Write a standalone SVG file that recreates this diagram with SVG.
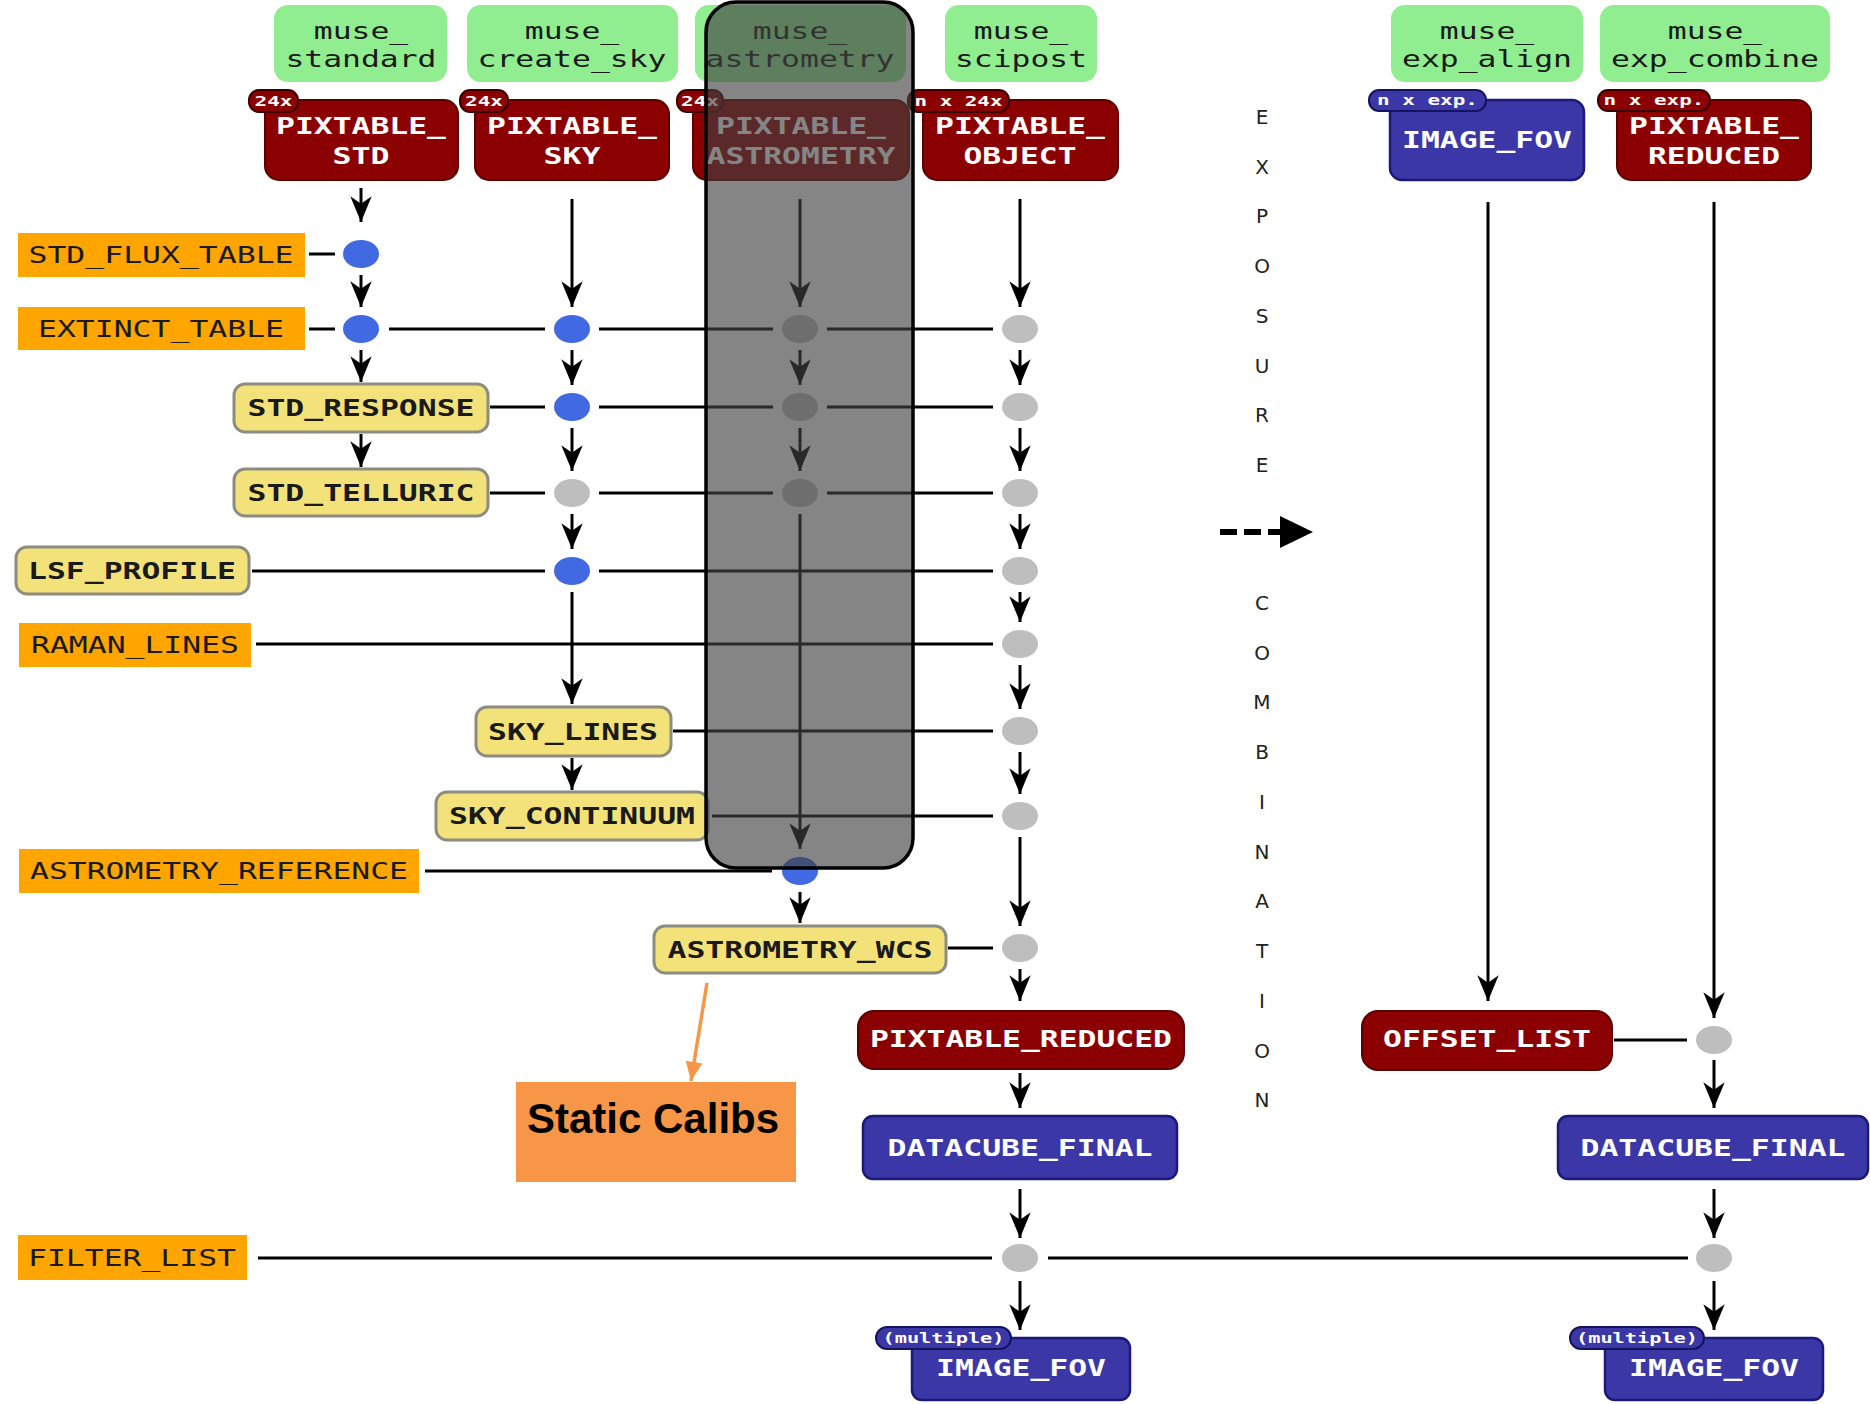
<svg xmlns="http://www.w3.org/2000/svg" width="1870" height="1404" viewBox="0 0 1870 1404">
<defs>
<style>
.t{font-family:"DejaVu Sans Mono","Liberation Mono",monospace;font-size:23px;text-anchor:middle}
.b{font-weight:bold}
.w{fill:#fff}
.k{fill:#1a1a1a}
.tag{font-family:"DejaVu Sans Mono","Liberation Mono",monospace;font-size:14px;font-weight:bold;fill:#fff;text-anchor:middle}
.green{fill:#90EE90}
.red{fill:#8B0000;stroke:#5a0000;stroke-width:2}
.redtag{fill:#8B0000;stroke:#3a0000;stroke-width:2}
.blue{fill:#3B37A6;stroke:#1b197a;stroke-width:2.5}
.bluetag{fill:#3B37A6;stroke:#15135e;stroke-width:2}
.yellow{fill:#F3E27A;stroke:#8c8c80;stroke-width:3}
.orange{fill:#FFA500}
.db{fill:#4169E1}
.dg{fill:#BEBEBE}
.ln{stroke:#000;stroke-width:3;fill:none}
.ar{marker-end:url(#ah)}
.ex{font-family:"DejaVu Sans","Liberation Sans",sans-serif;font-size:20px;fill:#222;text-anchor:middle}
</style>
<marker id="ah" markerUnits="userSpaceOnUse" markerWidth="30" markerHeight="30" viewBox="-26 -12 28 24" refX="0" refY="0" orient="auto">
<path d="M0,0 L-24,-10 L-17,0 L-24,10 Z" fill="#000"/>
</marker>
<marker id="oh" markerUnits="userSpaceOnUse" markerWidth="24" markerHeight="24" viewBox="-18 -9 20 18" refX="0" refY="0" orient="auto">
<path d="M0,0 L-16,-7 L-16,7 Z" fill="#F79646"/>
</marker>
</defs>
<rect x="0" y="0" width="1870" height="1404" fill="#fff"/>

<!-- recipe boxes -->
<g id="muse_standard"><rect class="green" x="274" y="5" width="173" height="77" rx="14"/><text class="t k" x="361" y="39" textLength="94.5" lengthAdjust="spacingAndGlyphs">muse_</text><text class="t k" x="361" y="67" textLength="151" lengthAdjust="spacingAndGlyphs">standard</text></g>
<g id="muse_create_sky"><rect class="green" x="467" y="5" width="211" height="77" rx="14"/><text class="t k" x="572" y="39" textLength="94.5" lengthAdjust="spacingAndGlyphs">muse_</text><text class="t k" x="572" y="67" textLength="189" lengthAdjust="spacingAndGlyphs">create_sky</text></g>
<g id="muse_astrometry"><rect class="green" x="695" y="5" width="211" height="77" rx="14"/><text class="t k" x="800" y="39" textLength="94.5" lengthAdjust="spacingAndGlyphs">muse_</text><text class="t k" x="800" y="67" textLength="189" lengthAdjust="spacingAndGlyphs">astrometry</text></g>
<g id="muse_scipost"><rect class="green" x="945" y="5" width="152" height="77" rx="14"/><text class="t k" x="1021" y="39" textLength="94.5" lengthAdjust="spacingAndGlyphs">muse_</text><text class="t k" x="1021" y="67" textLength="132" lengthAdjust="spacingAndGlyphs">scipost</text></g>
<g id="muse_exp_align"><rect class="green" x="1391" y="5" width="192" height="77" rx="14"/><text class="t k" x="1487" y="39" textLength="94.5" lengthAdjust="spacingAndGlyphs">muse_</text><text class="t k" x="1487" y="67" textLength="170" lengthAdjust="spacingAndGlyphs">exp_align</text></g>
<g id="muse_exp_combine"><rect class="green" x="1600" y="5" width="230" height="77" rx="14"/><text class="t k" x="1715" y="39" textLength="94.5" lengthAdjust="spacingAndGlyphs">muse_</text><text class="t k" x="1715" y="67" textLength="208" lengthAdjust="spacingAndGlyphs">exp_combine</text></g>

<!-- input frames -->
<g id="pixtable_std"><rect class="red" x="265" y="100" width="193" height="80" rx="14"/><rect class="redtag" x="249" y="90" width="49" height="22" rx="10"/><text class="tag" x="273.5" y="106" textLength="38" lengthAdjust="spacingAndGlyphs">24x</text><text class="t b w" x="361" y="134" textLength="170" lengthAdjust="spacingAndGlyphs">PIXTABLE_</text><text class="t b w" x="361" y="164" textLength="57" lengthAdjust="spacingAndGlyphs">STD</text></g>
<g id="pixtable_sky"><rect class="red" x="475" y="100" width="194" height="80" rx="14"/><rect class="redtag" x="460" y="90" width="48" height="22" rx="10"/><text class="tag" x="484" y="106" textLength="38" lengthAdjust="spacingAndGlyphs">24x</text><text class="t b w" x="572" y="134" textLength="170" lengthAdjust="spacingAndGlyphs">PIXTABLE_</text><text class="t b w" x="572" y="164" textLength="57" lengthAdjust="spacingAndGlyphs">SKY</text></g>
<g id="pixtable_astrometry"><rect class="red" x="693" y="100" width="216" height="80" rx="14"/><rect class="redtag" x="677" y="90" width="46" height="22" rx="10"/><text class="tag" x="700" y="106" textLength="38" lengthAdjust="spacingAndGlyphs">24x</text><text class="t b w" x="801" y="134" textLength="170" lengthAdjust="spacingAndGlyphs">PIXTABLE_</text><text class="t b w" x="801" y="164" textLength="189" lengthAdjust="spacingAndGlyphs">ASTROMETRY</text></g>
<g id="pixtable_object"><rect class="red" x="923" y="100" width="195" height="80" rx="14"/><rect class="redtag" x="908" y="90" width="101" height="22" rx="10"/><text class="tag" x="958.5" y="106" textLength="88" lengthAdjust="spacingAndGlyphs">n x 24x</text><text class="t b w" x="1020" y="134" textLength="170" lengthAdjust="spacingAndGlyphs">PIXTABLE_</text><text class="t b w" x="1020" y="164" textLength="113" lengthAdjust="spacingAndGlyphs">OBJECT</text></g>
<g id="image_fov_in"><rect class="blue" x="1390" y="100" width="194" height="80" rx="12"/><rect class="bluetag" x="1369" y="90" width="117" height="21" rx="10"/><text class="tag" x="1427.5" y="105" textLength="101" lengthAdjust="spacingAndGlyphs">n x exp.</text><text class="t b w" x="1487" y="148" textLength="170" lengthAdjust="spacingAndGlyphs">IMAGE_FOV</text></g>
<g id="pixtable_reduced_in"><rect class="red" x="1617" y="100" width="194" height="80" rx="14"/><rect class="redtag" x="1598" y="90" width="112" height="21" rx="10"/><text class="tag" x="1654" y="105" textLength="101" lengthAdjust="spacingAndGlyphs">n x exp.</text><text class="t b w" x="1714" y="134" textLength="170" lengthAdjust="spacingAndGlyphs">PIXTABLE_</text><text class="t b w" x="1714" y="164" textLength="132" lengthAdjust="spacingAndGlyphs">REDUCED</text></g>

<!-- connectors -->
<g id="connectors">
<!-- horizontal -->
<path class="ln" d="M309,254H335 M309,329H335 M389,329H545 M599,329H773 M827,329H993
M490,407H545 M599,407H773 M827,407H993
M490,493H545 M599,493H773 M827,493H993
M252,571H545 M599,571H993
M256,644H993 M673,731H993 M712,816H993 M425,871H772 M948,948H993
M1614,1040H1687 M258,1258H992 M1048,1258H1688"/>
<!-- col1 -->
<path class="ln ar" d="M361,188V222"/>
<path class="ln ar" d="M361,275V307"/>
<path class="ln ar" d="M361,350V382"/>
<path class="ln ar" d="M361,434V467"/>
<!-- col2 -->
<path class="ln ar" d="M572,199V307"/>
<path class="ln ar" d="M572,350V385"/>
<path class="ln ar" d="M572,428V471"/>
<path class="ln ar" d="M572,514V549"/>
<path class="ln ar" d="M572,592V704"/>
<path class="ln ar" d="M572,758V790"/>
<!-- col3 -->
<path class="ln ar" d="M800,199V307"/>
<path class="ln ar" d="M800,350V385"/>
<path class="ln ar" d="M800,428V471"/>
<path class="ln ar" d="M800,514V849"/>
<path class="ln ar" d="M800,892V923"/>
<!-- col4 -->
<path class="ln ar" d="M1020,199V307"/>
<path class="ln ar" d="M1020,350V385"/>
<path class="ln ar" d="M1020,428V471"/>
<path class="ln ar" d="M1020,514V549"/>
<path class="ln ar" d="M1020,592V622"/>
<path class="ln ar" d="M1020,665V709"/>
<path class="ln ar" d="M1020,752V794"/>
<path class="ln ar" d="M1020,837V926"/>
<path class="ln ar" d="M1020,969V1001"/>
<path class="ln ar" d="M1020,1073V1108"/>
<path class="ln ar" d="M1020,1189V1238"/>
<path class="ln ar" d="M1020,1281V1330"/>
<!-- col5 -->
<path class="ln ar" d="M1488,202V1001"/>
<!-- col6 -->
<path class="ln ar" d="M1714,202V1018"/>
<path class="ln ar" d="M1714,1060V1108"/>
<path class="ln ar" d="M1714,1189V1238"/>
<path class="ln ar" d="M1714,1281V1330"/>
<!-- static calibs pointer -->
<path d="M707,983L691,1081" stroke="#F79646" stroke-width="3.5" fill="none" marker-end="url(#oh)"/>
<!-- exposure combination dashed arrow -->
<path d="M1220,532H1284" stroke="#000" stroke-width="6" stroke-dasharray="17 7" fill="none"/>
<path d="M1280,516L1313,532L1280,548Z" fill="#000"/>
</g>

<!-- merge points -->
<g id="dots">
<ellipse class="db" cx="361" cy="254" rx="18" ry="14"/>
<ellipse class="db" cx="361" cy="329" rx="18" ry="14"/>
<ellipse class="db" cx="572" cy="329" rx="18" ry="14"/>
<ellipse class="db" cx="572" cy="407" rx="18" ry="14"/>
<ellipse class="dg" cx="572" cy="493" rx="18" ry="14"/>
<ellipse class="db" cx="572" cy="571" rx="18" ry="14"/>
<ellipse class="dg" cx="800" cy="329" rx="18" ry="14"/>
<ellipse class="dg" cx="800" cy="407" rx="18" ry="14"/>
<ellipse class="dg" cx="800" cy="493" rx="18" ry="14"/>
<ellipse class="db" cx="800" cy="871" rx="18" ry="14"/>
<ellipse class="dg" cx="1020" cy="329" rx="18" ry="14"/>
<ellipse class="dg" cx="1020" cy="407" rx="18" ry="14"/>
<ellipse class="dg" cx="1020" cy="493" rx="18" ry="14"/>
<ellipse class="dg" cx="1020" cy="571" rx="18" ry="14"/>
<ellipse class="dg" cx="1020" cy="644" rx="18" ry="14"/>
<ellipse class="dg" cx="1020" cy="731" rx="18" ry="14"/>
<ellipse class="dg" cx="1020" cy="816" rx="18" ry="14"/>
<ellipse class="dg" cx="1020" cy="948" rx="18" ry="14"/>
<ellipse class="dg" cx="1020" cy="1258" rx="18" ry="14"/>
<ellipse class="dg" cx="1714" cy="1040" rx="18" ry="14"/>
<ellipse class="dg" cx="1714" cy="1258" rx="18" ry="14"/>
</g>

<!-- static calibration inputs -->
<g id="std_flux_table"><rect class="orange" x="18" y="233" width="287" height="44"/><text class="t k" x="161" y="263" textLength="265" lengthAdjust="spacingAndGlyphs">STD_FLUX_TABLE</text></g>
<g id="extinct_table"><rect class="orange" x="18" y="307" width="287" height="43"/><text class="t k" x="161" y="337" textLength="246" lengthAdjust="spacingAndGlyphs">EXTINCT_TABLE</text></g>
<g id="raman_lines"><rect class="orange" x="19" y="623" width="232" height="44"/><text class="t k" x="135" y="653" textLength="208" lengthAdjust="spacingAndGlyphs">RAMAN_LINES</text></g>
<g id="astrometry_reference"><rect class="orange" x="19" y="849" width="400" height="44"/><text class="t k" x="219" y="879" textLength="378" lengthAdjust="spacingAndGlyphs">ASTROMETRY_REFERENCE</text></g>
<g id="filter_list"><rect class="orange" x="18" y="1235" width="229" height="45"/><text class="t k" x="132" y="1266" textLength="208" lengthAdjust="spacingAndGlyphs">FILTER_LIST</text></g>

<g id="std_response"><rect class="yellow" x="234" y="384" width="254" height="48" rx="11"/><text class="t b k" x="361" y="416" textLength="227" lengthAdjust="spacingAndGlyphs">STD_RESPONSE</text></g>
<g id="std_telluric"><rect class="yellow" x="234" y="469" width="254" height="47" rx="11"/><text class="t b k" x="361" y="501" textLength="227" lengthAdjust="spacingAndGlyphs">STD_TELLURIC</text></g>
<g id="lsf_profile"><rect class="yellow" x="16" y="547" width="233" height="47" rx="11"/><text class="t b k" x="132" y="579" textLength="208" lengthAdjust="spacingAndGlyphs">LSF_PROFILE</text></g>
<g id="sky_lines"><rect class="yellow" x="476" y="707" width="195" height="49" rx="11"/><text class="t b k" x="573" y="740" textLength="170" lengthAdjust="spacingAndGlyphs">SKY_LINES</text></g>
<g id="sky_continuum"><rect class="yellow" x="436" y="792" width="272" height="48" rx="11"/><text class="t b k" x="572" y="824" textLength="246" lengthAdjust="spacingAndGlyphs">SKY_CONTINUUM</text></g>
<g id="astrometry_wcs"><rect class="yellow" x="654" y="926" width="292" height="47" rx="11"/><text class="t b k" x="800" y="958" textLength="265" lengthAdjust="spacingAndGlyphs">ASTROMETRY_WCS</text></g>

<!-- products -->
<g id="pixtable_reduced"><rect class="red" x="858" y="1011" width="326" height="58" rx="16"/><text class="t b w" x="1021" y="1047" textLength="302" lengthAdjust="spacingAndGlyphs">PIXTABLE_REDUCED</text></g>
<g id="datacube_final"><rect class="blue" x="863" y="1116" width="314" height="63" rx="10"/><text class="t b w" x="1020" y="1156" textLength="265" lengthAdjust="spacingAndGlyphs">DATACUBE_FINAL</text></g>
<g id="image_fov"><rect class="blue" x="912" y="1338" width="218" height="62" rx="10"/><rect class="bluetag" x="876" y="1327" width="135" height="22" rx="11"/><text class="tag" x="943.5" y="1343" textLength="122" lengthAdjust="spacingAndGlyphs">(multiple)</text><text class="t b w" x="1021" y="1376" textLength="170" lengthAdjust="spacingAndGlyphs">IMAGE_FOV</text></g>
<g id="offset_list"><rect class="red" x="1362" y="1011" width="250" height="59" rx="16"/><text class="t b w" x="1487" y="1047" textLength="208" lengthAdjust="spacingAndGlyphs">OFFSET_LIST</text></g>
<g id="datacube_final_comb"><rect class="blue" x="1558" y="1116" width="310" height="63" rx="10"/><text class="t b w" x="1713" y="1156" textLength="265" lengthAdjust="spacingAndGlyphs">DATACUBE_FINAL</text></g>
<g id="image_fov_comb"><rect class="blue" x="1605" y="1338" width="218" height="62" rx="10"/><rect class="bluetag" x="1570" y="1327" width="134" height="22" rx="11"/><text class="tag" x="1637" y="1343" textLength="122" lengthAdjust="spacingAndGlyphs">(multiple)</text><text class="t b w" x="1714" y="1376" textLength="170" lengthAdjust="spacingAndGlyphs">IMAGE_FOV</text></g>

<g id="static_calibs"><rect x="516" y="1082" width="280" height="100" fill="#F79646"/><text x="527" y="1133" font-family="'Liberation Sans',Arial,sans-serif" font-size="42" font-weight="bold" fill="#000">Static Calibs</text></g>

<g id="exposure_combination">
<text class="ex" x="1262" y="124">E</text>
<text class="ex" x="1262" y="174">X</text>
<text class="ex" x="1262" y="223">P</text>
<text class="ex" x="1262" y="273">O</text>
<text class="ex" x="1262" y="323">S</text>
<text class="ex" x="1262" y="373">U</text>
<text class="ex" x="1262" y="422">R</text>
<text class="ex" x="1262" y="472">E</text>
<text class="ex" x="1262" y="610">C</text>
<text class="ex" x="1262" y="660">O</text>
<text class="ex" x="1262" y="709">M</text>
<text class="ex" x="1262" y="759">B</text>
<text class="ex" x="1262" y="809">I</text>
<text class="ex" x="1262" y="859">N</text>
<text class="ex" x="1262" y="908">A</text>
<text class="ex" x="1262" y="958">T</text>
<text class="ex" x="1262" y="1008">I</text>
<text class="ex" x="1262" y="1058">O</text>
<text class="ex" x="1262" y="1107">N</text>
</g>

<g id="highlight"><rect x="706" y="2" width="207" height="866" rx="30" fill="#404040" fill-opacity="0.64" stroke="#000" stroke-width="3.5"/></g>
</svg>
